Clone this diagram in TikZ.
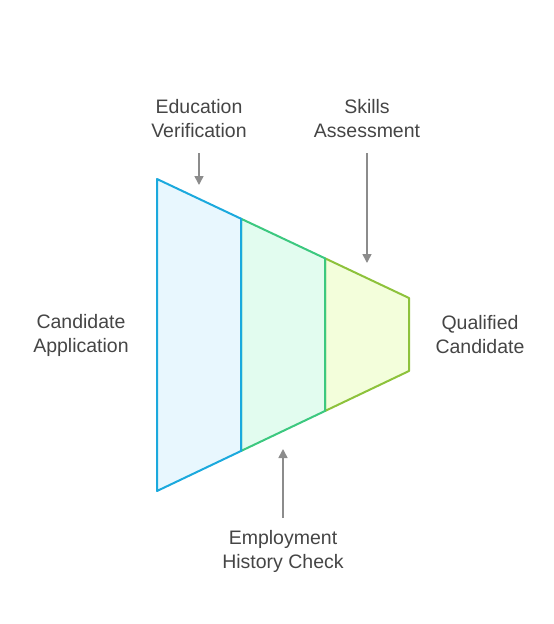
\documentclass[tikz,border=0pt]{standalone}
\usepackage{fontspec}
\setmainfont{Liberation Sans}
\usetikzlibrary{arrows.meta}
\definecolor{txtgray}{HTML}{454545}
\definecolor{arrgray}{HTML}{8C8C8C}
\definecolor{blueline}{HTML}{1BA9DD}
\definecolor{bluefill}{HTML}{E8F7FE}
\definecolor{greenline}{HTML}{3CC87F}
\definecolor{greenfill}{HTML}{E2FCEF}
\definecolor{limeline}{HTML}{8DC23B}
\definecolor{limefill}{HTML}{F3FEDB}

\begin{document}
\begin{tikzpicture}[x=1pt,y=-1pt,
    lbl/.style={align=center,text=txtgray,font=\fontsize{19.5}{24}\selectfont},
    pointer/.style={draw=arrgray,line width=1.6pt,-{Triangle[length=9pt,width=9pt]}},
    stage/.style={line width=2pt,line join=round}]
    \useasboundingbox (0,0) rectangle (554,624);
    % funnel stages, right to left
    \filldraw[stage,draw=limeline,fill=limefill]
    (325,258.3) -- (409,298) -- (409,371) -- (325,411) -- cycle;
    \filldraw[stage,draw=greenline,fill=greenfill]
    (241,218.7) -- (325,258.3) -- (325,411) -- (241,451) -- cycle;
    \filldraw[stage,draw=blueline,fill=bluefill]
    (157,179) -- (241,218.7) -- (241,451) -- (157,491) -- cycle;
    % targets
    \coordinate (edutip) at (199,185);
    \coordinate (skilltip) at (367,263);
    \coordinate (emptip) at (283,449);
    % labels
    \node[lbl] (cand) at (81,335) {Candidate\\Application};
    \node[lbl] (qual) at (480,335) {Qualified\\Candidate};
    \node[lbl] (edu) at (199,119) {Education\\Verification};
    \node[lbl] (skill) at (367,119) {Skills\\Assessment};
    \node[lbl] (emp) at (283,551) {Employment\\History Check};
    % pointers
    \draw[pointer] (edu.south |- 0,153) -- (edutip);
    \draw[pointer] (skill.south |- 0,153) -- (skilltip);
    \draw[pointer] (emp.north |- 0,518) -- (emptip);
\end{tikzpicture}
\end{document}
